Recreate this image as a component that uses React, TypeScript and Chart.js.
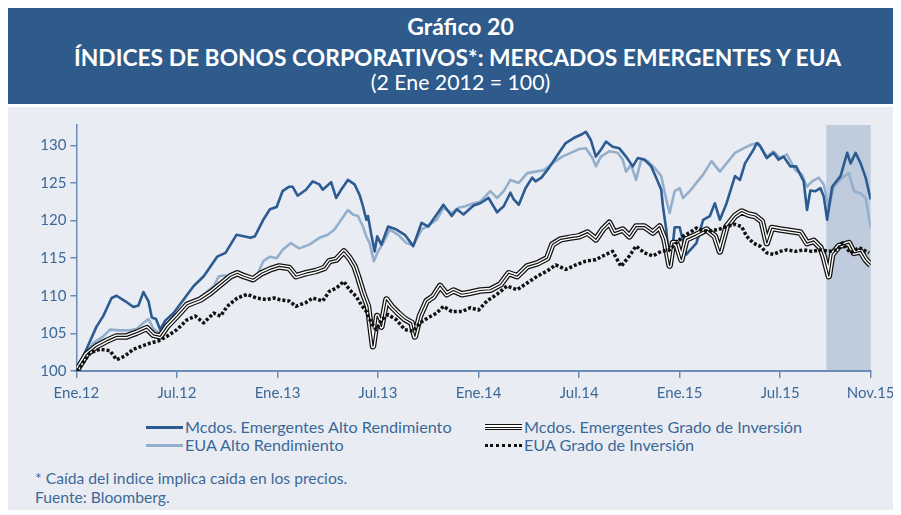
import React, { useEffect, useRef } from "react";
import { Chart, registerables } from "chart.js";

Chart.register(...registerables);

// x values are months since 2 Jan 2012
const tickMonths = [0, 6, 12, 18, 24, 30, 36, 42, 47.4];
const tickLabels = ["Ene.12", "Jul.12", "Ene.13", "Jul.13", "Ene.14", "Jul.14", "Ene.15", "Jul.15", "Nov.15"];
const yTicks = [100, 105, 110, 115, 120, 125, 130];
const shadeStart = 44.75;
const shadeEnd = 47.4;

const seriesNames = [
  "Mcdos. Emergentes Alto Rendimiento",
  "Mcdos. Emergentes Grado de Inversión",
  "EUA Alto Rendimiento",
  "EUA Grado de Inversión",
];

const emHyX = [0, 0.6, 1.2, 1.6, 2.1, 2.4, 2.9, 3.4, 3.7, 4.0, 4.3, 4.5, 4.75, 5.0, 5.3, 5.8, 6.4, 7.0, 7.6, 8.4, 8.9, 9.55, 10.4, 10.65, 11.15, 11.55, 11.95, 12.3, 12.7, 12.9, 13.2, 13.7, 14.1, 14.5, 14.7, 15.2, 15.5, 15.8, 16.2, 16.6, 16.9, 17.1, 17.3, 17.4, 17.6, 17.8, 17.95, 18.2, 18.6, 19.1, 19.6, 20.1, 20.6, 21.0, 21.5, 21.9, 22.4, 22.7, 23.1, 23.7, 24.1, 24.6, 25.1, 25.5, 25.9, 26.1, 26.4, 26.8, 27.2, 27.4, 27.75, 28.2, 28.8, 29.2, 29.7, 30.1, 30.4, 30.7, 31.0, 31.3, 31.6, 32.0, 32.4, 32.8, 33.2, 33.5, 33.9, 34.3, 34.6, 34.9, 35.0, 35.2, 35.35, 35.45, 35.7, 36.0, 36.4, 37.0, 37.4, 37.8, 38.1, 38.4, 38.8, 39.3, 39.6, 39.9, 40.4, 40.6, 40.8, 41.2, 41.6, 41.9, 42.2, 42.6, 42.95, 43.2, 43.4, 43.6, 43.8, 44.1, 44.4, 44.6, 44.8, 45.1, 45.6, 46.0, 46.2, 46.5, 46.8, 47.1, 47.4];
const emHyY = [100, 102.9, 105.9, 107.3, 109.7, 110.0, 109.3, 108.5, 108.7, 110.5, 109.3, 107.1, 106.9, 105.5, 106.7, 107.7, 109.5, 111.3, 112.6, 115.2, 115.7, 118.1, 117.7, 117.9, 120.1, 121.5, 121.8, 123.9, 124.5, 124.5, 123.3, 124.1, 125.2, 124.8, 124.1, 125.1, 123.0, 124.1, 125.4, 124.8, 123.4, 121.9, 120.1, 120.6, 118.1, 115.9, 117.9, 116.8, 119.2, 118.8, 118.1, 116.6, 119.7, 119.2, 120.8, 122.1, 120.6, 121.5, 120.8, 122.0, 122.3, 123.0, 121.1, 121.9, 123.7, 122.8, 122.1, 124.3, 125.7, 125.2, 125.7, 127.0, 129.0, 130.3, 131.0, 131.4, 131.8, 130.7, 128.5, 129.4, 130.5, 129.8, 129.6, 128.5, 127.2, 128.3, 128.1, 127.2, 125.7, 124.1, 121.9, 118.8, 115.2, 113.9, 119.1, 119.1, 115.5, 117.0, 120.1, 120.6, 122.3, 120.1, 122.3, 125.9, 125.4, 127.6, 129.4, 130.3, 129.9, 128.3, 129.0, 128.1, 128.5, 127.2, 127.2, 126.1, 125.2, 121.4, 124.0, 123.9, 124.3, 123.2, 120.1, 124.5, 125.9, 129.0, 127.6, 129.0, 127.6, 125.7, 122.8];

const usHyX = [0, 0.4, 1.0, 1.6, 2.0, 2.6, 3.2, 3.6, 4.0, 4.3, 4.6, 4.9, 5.2, 5.8, 6.4, 7.0, 7.6, 8.2, 8.5, 8.8, 9.2, 9.75, 10.45, 10.75, 11.15, 11.55, 11.95, 12.3, 12.8, 13.3, 13.9, 14.5, 15.0, 15.4, 15.8, 16.2, 16.5, 16.8, 17.1, 17.3, 17.5, 17.75, 18.0, 18.3, 18.7, 19.2, 19.7, 20.1, 20.6, 21.1, 21.5, 21.9, 22.4, 22.8, 23.2, 23.7, 24.1, 24.7, 25.1, 25.5, 25.9, 26.4, 26.9, 27.4, 27.9, 28.4, 29.0, 29.5, 30.0, 30.4, 30.8, 31.0, 31.3, 31.8, 32.3, 32.6, 32.8, 33.1, 33.4, 33.7, 34.1, 34.5, 34.9, 35.2, 35.4, 35.7, 36.0, 36.2, 36.6, 37.0, 37.4, 37.9, 38.4, 38.8, 39.3, 39.8, 40.3, 40.7, 41.2, 41.6, 42.0, 42.4, 42.9, 43.3, 43.6, 43.9, 44.3, 44.6, 44.9, 45.2, 45.7, 46.1, 46.4, 46.8, 47.1, 47.4];
const usHyY = [100, 101.8, 103.7, 104.6, 105.5, 105.4, 105.4, 105.6, 106.4, 106.9, 105.6, 105.1, 105.5, 107.1, 108.2, 109.1, 110.2, 111.3, 112.6, 112.7, 112.6, 113.0, 111.9, 112.6, 114.6, 115.2, 115.0, 116.1, 117.0, 116.3, 116.8, 117.7, 118.1, 118.8, 120.1, 121.4, 120.8, 120.6, 119.2, 117.9, 117.0, 114.6, 115.9, 117.0, 118.8, 118.1, 117.0, 116.7, 118.8, 119.5, 120.1, 121.7, 121.0, 121.7, 121.9, 122.3, 122.5, 123.9, 123.0, 123.9, 125.4, 125.0, 126.3, 126.5, 126.7, 127.6, 128.5, 129.0, 129.5, 129.6, 128.3, 127.2, 128.5, 129.2, 129.0, 128.1, 126.5, 127.4, 125.4, 128.1, 127.9, 127.0, 125.9, 122.8, 121.0, 123.9, 124.3, 123.0, 123.9, 125.0, 126.1, 127.9, 126.5, 127.6, 129.0, 129.6, 130.1, 130.3, 128.5, 129.2, 128.3, 128.8, 126.7, 126.1, 124.5, 125.2, 125.7, 124.8, 121.7, 124.5, 125.7, 126.3, 123.9, 123.6, 123.0, 119.0];

const emIgX = [0, 0.6, 1.2, 1.8, 2.4, 3.0, 3.6, 4.2, 4.6, 5.0, 5.4, 6.0, 6.6, 7.4, 8.0, 8.6, 9.2, 9.6, 10.0, 10.55, 11.05, 11.55, 12.1, 12.7, 13.1, 13.7, 14.3, 14.8, 15.1, 15.5, 15.96, 16.3, 16.6, 16.8, 17.1, 17.4, 17.7, 17.95, 18.2, 18.5, 18.8, 19.2, 19.6, 20.0, 20.2, 20.5, 20.9, 21.3, 21.7, 22.1, 22.5, 23.0, 23.5, 24.1, 24.7, 25.3, 25.8, 26.3, 26.9, 27.5, 28.1, 28.4, 28.9, 29.4, 30.0, 30.5, 31.0, 31.4, 31.8, 32.1, 32.6, 33.0, 33.4, 33.9, 34.4, 34.8, 35.1, 35.4, 35.6, 35.8, 36.1, 36.4, 37.0, 37.6, 38.1, 38.4, 38.8, 39.3, 39.7, 40.1, 40.5, 40.9, 41.2, 41.5, 42.0, 42.6, 43.2, 43.6, 44.0, 44.4, 44.6, 44.9, 45.1, 45.5, 46.1, 46.4, 46.8, 47.1, 47.4];
const emIgY = [100, 102.2, 103.3, 104.0, 104.6, 104.6, 105.1, 105.7, 104.8, 104.6, 105.9, 107.3, 108.8, 109.5, 110.4, 111.5, 112.6, 113.0, 112.6, 112.2, 113.0, 113.5, 113.9, 113.7, 112.6, 113.0, 113.3, 113.7, 114.6, 114.8, 115.9, 115.0, 113.9, 112.6, 110.4, 108.6, 103.3, 107.3, 105.9, 109.5, 108.6, 107.7, 106.9, 106.4, 104.6, 107.3, 109.3, 109.9, 111.3, 110.2, 110.7, 110.2, 110.4, 110.7, 110.8, 111.5, 113.0, 112.6, 113.9, 114.3, 115.0, 116.8, 117.5, 117.7, 117.9, 118.4, 117.5, 118.8, 119.7, 118.4, 118.8, 117.9, 119.2, 119.2, 118.4, 119.2, 117.5, 114.0, 117.0, 117.0, 114.8, 117.5, 118.1, 118.8, 117.9, 115.9, 119.2, 120.6, 121.2, 120.8, 120.6, 119.9, 117.0, 119.0, 118.8, 118.6, 118.4, 117.0, 117.3, 116.4, 115.2, 112.6, 115.5, 116.6, 117.0, 115.7, 115.9, 114.8, 114.1];

const usIgX = [0, 0.4, 0.8, 1.4, 2.0, 2.4, 2.9, 3.4, 3.9, 4.4, 4.9, 5.4, 6.0, 6.6, 7.1, 7.6, 8.2, 8.6, 9.0, 9.6, 10.2, 10.75, 11.35, 11.8, 12.1, 12.7, 13.1, 13.7, 14.1, 14.7, 15.1, 15.5, 15.96, 16.3, 16.7, 17.0, 17.3, 17.6, 17.9, 18.2, 18.6, 19.1, 19.6, 20.1, 20.5, 21.0, 21.5, 21.9, 22.4, 23.0, 23.5, 24.0, 24.5, 25.1, 25.7, 26.3, 26.9, 27.5, 28.1, 28.6, 29.2, 29.8, 30.4, 31.0, 31.6, 32.0, 32.5, 33.0, 33.4, 33.9, 34.4, 34.9, 35.4, 35.8, 36.2, 36.6, 37.0, 37.4, 37.8, 38.3, 38.8, 39.3, 39.7, 40.0, 40.4, 40.8, 41.2, 41.6, 42.0, 42.4, 42.9, 43.4, 43.9, 44.4, 44.9, 45.4, 45.7, 46.2, 46.7, 47.3];
const usIgY = [100, 101.1, 102.4, 102.9, 102.7, 101.5, 102.0, 102.9, 103.3, 103.7, 104.0, 104.6, 105.5, 106.8, 107.3, 106.4, 107.7, 107.3, 108.6, 109.7, 110.2, 109.7, 109.5, 109.7, 109.5, 109.3, 108.6, 109.1, 109.7, 109.3, 110.6, 111.0, 111.9, 110.8, 109.9, 108.8, 107.9, 106.4, 105.5, 106.8, 107.5, 106.8, 105.5, 105.3, 106.4, 107.1, 107.7, 108.6, 107.9, 107.9, 108.4, 108.1, 109.3, 110.2, 111.3, 110.8, 111.7, 112.6, 113.3, 114.1, 113.5, 114.1, 114.6, 114.8, 115.5, 115.9, 113.9, 115.3, 116.6, 115.7, 115.3, 115.9, 116.1, 117.0, 117.9, 118.4, 119.0, 118.6, 118.6, 118.8, 119.2, 119.5, 119.2, 117.9, 117.0, 116.6, 115.7, 115.5, 115.9, 116.1, 115.9, 116.1, 115.9, 116.1, 115.9, 116.1, 117.0, 115.7, 116.4, 115.7];

const DARK_BLUE = "#2B5B91";
const LIGHT_BLUE = "#94AFCC";
const AXIS = "#6A8DB8";
const TEXT = "#3C6898";
const PANEL = "#E9EDF3";
const HEADER = "#2E5B8B";
const SHADE = "#BFCCDD";
const FONT = "Lato, 'Open Sans', sans-serif";

const pts = (xs: number[], ys: number[]) => xs.map((x, i) => ({ x, y: ys[i] }));

const shadePlugin = {
  id: "shade",
  beforeDatasetsDraw(chart: any) {
    const { ctx, chartArea, scales } = chart;
    const x0 = scales.x.getPixelForValue(shadeStart);
    const x1 = scales.x.getPixelForValue(shadeEnd);
    ctx.save();
    ctx.fillStyle = SHADE;
    ctx.fillRect(x0, chartArea.top, x1 - x0, chartArea.bottom - chartArea.top - 1);
    ctx.restore();
  },
};

function LineChart() {
  const ref = useRef<HTMLCanvasElement | null>(null);
  useEffect(() => {
    if (!ref.current) return;
    const base = { pointRadius: 0, pointHoverRadius: 0, tension: 0, fill: false, borderJoinStyle: "round" };
    const chart = new Chart(ref.current, {
      type: "line",
      data: {
        datasets: [
          { ...base, label: seriesNames[3], data: pts(usIgX, usIgY), borderColor: "#111", borderWidth: 3.5, borderDash: [3, 2], borderCapStyle: "butt", order: 0 },
          { ...base, label: seriesNames[1] + " c", data: pts(emIgX, emIgY), borderColor: "#111", borderWidth: 1.2, order: 1 },
          { ...base, label: seriesNames[1] + " w", data: pts(emIgX, emIgY), borderColor: "#ffffff", borderWidth: 4, order: 2 },
          { ...base, label: seriesNames[1], data: pts(emIgX, emIgY), borderColor: "#111", borderWidth: 6.5, order: 3 },
          { ...base, label: seriesNames[0], data: pts(emHyX, emHyY), borderColor: DARK_BLUE, borderWidth: 2.6, order: 4 },
          { ...base, label: seriesNames[2], data: pts(usHyX, usHyY), borderColor: LIGHT_BLUE, borderWidth: 2.6, order: 5 },
        ] as any,
      },
      options: {
        animation: false,
        responsive: false,
        devicePixelRatio: 1,
        layout: { padding: { left: 0, right: 27.3, top: 18, bottom: 0 } },
        plugins: { legend: { display: false }, tooltip: { enabled: false } },
        scales: {
          x: {
            type: "linear",
            min: 0,
            max: 47.4,
            afterBuildTicks: (s: any) => {
              s.ticks = tickMonths.map((v) => ({ value: v }));
            },
            afterFit: (s: any) => {
              s.height = 40;
              s.paddingLeft = 0;
              s.paddingRight = 0;
            },
            ticks: {
              autoSkip: false,
              maxRotation: 0,
              color: TEXT,
              padding: 6,
              font: { family: FONT, size: 15 },
              callback: (_v: any, i: number) => tickLabels[i],
            },
            grid: { drawOnChartArea: false, drawTicks: true, tickLength: 7, color: AXIS, lineWidth: 1.5 },
            border: { color: AXIS, width: 2 },
          },
          y: {
            type: "linear",
            min: 100,
            max: 132.7,
            afterBuildTicks: (s: any) => {
              s.ticks = yTicks.map((v) => ({ value: v }));
            },
            afterFit: (s: any) => {
              s.width = 68.4;
              s.paddingTop = 0;
              s.paddingBottom = 0;
            },
            ticks: { color: TEXT, padding: 4, font: { family: FONT, size: 15 } },
            grid: { drawOnChartArea: false, drawTicks: true, tickLength: 6, color: AXIS, lineWidth: 1.5 },
            border: { color: AXIS, width: 1.5 },
          },
        },
      } as any,
      plugins: [shadePlugin],
    });
    return () => chart.destroy();
  }, []);
  return <canvas ref={ref} width={890} height={304} style={{ position: "absolute", left: 0, top: 0 }} />;
}

function Sample({ kind }: { kind: string }) {
  const common: React.CSSProperties = { position: "absolute", left: 0, top: "50%", width: 37 };
  if (kind === "emhy") return <div style={{ ...common, height: 3, marginTop: -1.5, background: DARK_BLUE }} />;
  if (kind === "ushy") return <div style={{ ...common, height: 3, marginTop: -1.5, background: LIGHT_BLUE }} />;
  if (kind === "emig")
    return (
      <div
        style={{
          ...common,
          height: 6,
          marginTop: -3,
          borderTop: "1.5px solid #111",
          borderBottom: "1.5px solid #111",
          boxSizing: "border-box",
          background: "linear-gradient(#111,#111) center / 100% 1px no-repeat, #fff",
        }}
      />
    );
  return <div style={{ ...common, height: 0, marginTop: -1.5, borderTop: "3px dotted #111" }} />;
}

function LegendItem({ kind, label, left, top }: { kind: string; label: string; left: number; top: number }) {
  return (
    <div style={{ position: "absolute", left, top, height: 18, lineHeight: "18px", paddingLeft: 39, fontSize: 16.2, color: TEXT, whiteSpace: "nowrap" }}>
      <Sample kind={kind} />
      {label}
    </div>
  );
}

export default function App() {
  return (
    <div style={{ width: 885, fontFamily: FONT, position: "relative" }}>
      <div style={{ position: "relative", height: 96, background: HEADER, color: "#fff", textAlign: "center" }}>
        <div style={{ position: "absolute", left: 20, right: 0, top: 5, fontSize: 23, fontWeight: 700, lineHeight: 1.2 }}>Gráfico 20</div>
        <div style={{ position: "absolute", left: 14, right: 0, top: 35.5, fontSize: 22.8, fontWeight: 700, lineHeight: 1.2 }}>
          ÍNDICES DE BONOS CORPORATIVOS*: MERCADOS EMERGENTES Y EUA
        </div>
        <div style={{ position: "absolute", left: 20, right: 0, top: 61.5, fontSize: 21.3, fontWeight: 400, lineHeight: 1.2 }}>(2 Ene 2012 = 100)</div>
      </div>
      <div style={{ position: "relative", marginTop: 3, height: 403, background: PANEL }}>
        <LineChart />
        <LegendItem kind="emhy" label={seriesNames[0]} left={138} top={311} />
        <LegendItem kind="emig" label={seriesNames[1]} left={477} top={311} />
        <LegendItem kind="ushy" label={seriesNames[2]} left={138} top={329} />
        <LegendItem kind="usig" label={seriesNames[3]} left={477} top={329} />
        <div style={{ position: "absolute", left: 27, top: 362, fontSize: 15.7, color: TEXT, lineHeight: "18px" }}>
          * Caída del indice implica caída en los precios.
        </div>
        <div style={{ position: "absolute", left: 27, top: 381, fontSize: 15.7, color: TEXT, lineHeight: "18px" }}>Fuente: Bloomberg.</div>
      </div>
    </div>
  );
}
